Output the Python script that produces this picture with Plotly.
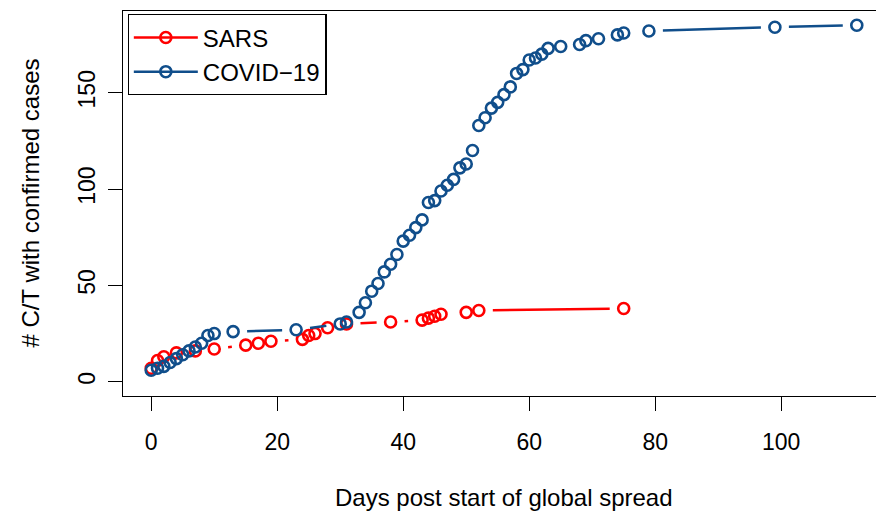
import plotly.graph_objects as go
import math

# ---- data ----
sars_days = [0, 1, 2, 4, 7, 10, 15, 17, 19, 24, 25, 26, 28, 31, 38, 43, 44, 45, 46, 50, 52, 75]
sars_ct = [7, 11, 13, 15, 16, 17, 19, 20, 21, 22, 24, 25, 28, 30, 31, 32, 33, 34, 35, 36, 37, 38]

covid_days = [0, 1, 2, 3, 4, 5, 6, 7, 8, 9, 10, 13, 23, 30, 31, 33, 34, 35, 36, 37, 38, 39, 40,
              41, 42, 43, 44, 45, 46, 47, 48, 49, 50, 51, 52, 53, 54, 55, 56, 57, 58, 59, 60,
              61, 62, 63, 65, 68, 69, 71, 74, 75, 79, 99, 112]
covid_ct = [6, 7, 8, 10, 12, 14, 16, 18, 20, 24, 25, 26, 27, 30, 31, 36, 41, 47, 51, 57, 61, 66, 73,
            76, 80, 84, 93, 94, 99, 102, 105, 111, 113, 120, 133, 137, 142, 145, 149, 153, 160, 162, 167,
            168, 170, 173, 174, 175, 177, 178, 180, 181, 182, 184, 185]

series_names = ["SARS", "COVID\u221219"]
series_colors = ["#FF0000", "#104E8B"]

x_ticks = [0, 20, 40, 60, 80, 100]
y_ticks = [0, 50, 100, 150]

# ---- layout geometry ----
W, H = 876, 515
ML, MR, MT, MB = 123, 0, 11, 119
x_range = [-4.48, 115.05]
y_range = [-7.4, 192.4]
pw, ph = W - ML - MR, H - MT - MB
sx = pw / (x_range[1] - x_range[0])
sy = ph / (y_range[1] - y_range[0])
GAP = 14  # px gap around points (R type="b")


def gapped(xs, ys):
    lx, ly = [], []
    for i in range(len(xs) - 1):
        dxp = (xs[i + 1] - xs[i]) * sx
        dyp = (ys[i + 1] - ys[i]) * sy
        d = math.hypot(dxp, dyp)
        if d <= 2 * GAP:
            continue
        f = GAP / d
        lx += [xs[i] + (xs[i + 1] - xs[i]) * f, xs[i + 1] - (xs[i + 1] - xs[i]) * f, None]
        ly += [ys[i] + (ys[i + 1] - ys[i]) * f, ys[i + 1] - (ys[i + 1] - ys[i]) * f, None]
    return lx, ly


fig = go.Figure()
FONT = "Liberation Sans, Arial, sans-serif"
FS = 24
TFS = 23

for name, col, xs, ys in [(series_names[0], series_colors[0], sars_days, sars_ct),
                          (series_names[1], series_colors[1], covid_days, covid_ct)]:
    lx, ly = gapped(xs, ys)
    fig.add_trace(go.Scatter(x=lx, y=ly, mode="lines", line=dict(color=col, width=2.5),
                             showlegend=False, hoverinfo="skip"))
    fig.add_trace(go.Scatter(x=xs, y=ys, mode="markers", showlegend=False,
                             marker=dict(symbol="circle-open", size=11, color=col,
                                         line=dict(color=col, width=2.6))))

for name, col in zip(series_names, series_colors):
    fig.add_trace(go.Scatter(x=[None], y=[None], mode="lines+markers", name=name,
                             line=dict(color=col, width=2.5),
                             marker=dict(symbol="circle-open", size=11, color=col,
                                         line=dict(color=col, width=2.6))))

fig.update_layout(
    width=W, height=H,
    margin=dict(l=ML, r=MR, t=MT, b=MB, pad=0),
    paper_bgcolor="white", plot_bgcolor="white",
    font=dict(family=FONT, size=FS, color="black"),
    showlegend=True,
    legend=dict(x=0.006, y=0.992, xanchor="left", yanchor="top",
                bordercolor="black", borderwidth=1.3, bgcolor="white",
                font=dict(size=FS), itemwidth=64, tracegroupgap=0),
    xaxis=dict(range=x_range, tickvals=x_ticks, ticktext=[str(v) for v in x_ticks],
               showgrid=False, zeroline=False, showline=True, linecolor="black", linewidth=1.3,
               mirror=True, ticks="outside", ticklen=14, tickwidth=1.3, tickcolor="black",
               ticklabelstandoff=11, tickfont=dict(size=TFS)),
    yaxis=dict(range=y_range, tickvals=y_ticks, ticktext=[str(v) for v in y_ticks],
               showgrid=False, zeroline=False, showline=True, linecolor="black", linewidth=1.3,
               mirror=False, ticks="outside", ticklen=14, tickwidth=1.3, tickcolor="black",
               tickangle=-90, ticklabelstandoff=4, tickfont=dict(size=TFS)),
    annotations=[
        dict(text="Days post start of global spread", xref="paper", yref="paper",
             x=0.506, y=0, xanchor="center", yanchor="middle", yshift=-101,
             showarrow=False, font=dict(size=FS)),
        dict(text="# C/T with confirmed cases", xref="paper", yref="paper",
             x=0, y=0.5, xanchor="center", yanchor="middle", xshift=-93, textangle=-90,
             showarrow=False, font=dict(size=FS)),
    ],
)

fig.write_html("out.html", config={"displayModeBar": False},
               post_script="document.body.style.margin='0';")
